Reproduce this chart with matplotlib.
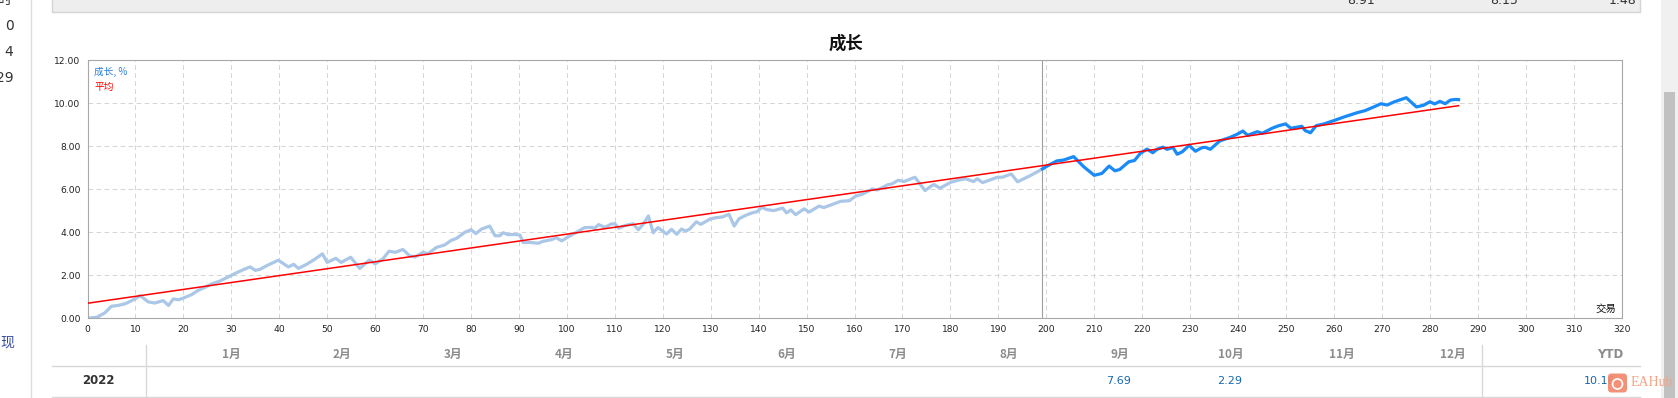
import numpy as np
import matplotlib.pyplot as plt
from matplotlib.patches import Rectangle, FancyBboxPatch, Circle

CJK = ['Noto Sans CJK SC', 'DejaVu Sans']

# growth curve (trade number, growth %)
trade = [0, 2, 3.6, 5, 6.4, 7.8, 9.2, 11, 12.7, 14, 15.8, 16.9, 17.9, 19, 20.3, 21.7,
         23.1, 24.5, 25.9, 27.6, 29.4, 31.1, 32.5, 33.9, 35, 36, 37.4, 39.8, 41.9, 43,
         44, 45.7, 47.5, 49, 50, 51.8, 52.9, 54.9, 56.8, 58.8, 60, 61.6, 62.9,
         64.2, 65.8, 67.2, 68.3, 70, 71, 72.8, 74.5, 75.9, 77, 78.7, 80, 81, 82.2, 83.9,
         85, 86, 86.7, 87.7, 89.1, 90.2, 90.9, 92.3, 94, 95, 96.8, 97.8, 98.9, 100.2,
         102, 103.7, 105.1, 105.8, 106.6, 107.9, 109.3, 110, 110.8, 112.1, 113.8, 114.9,
         115.9, 117, 118, 119, 120.8, 121.8, 122.9, 123.9, 124.8, 125.6, 127, 127.9,
         130, 131.4, 132.4, 133.8, 134.9, 135.9, 137.3, 138.7, 139.7, 140.6, 141.8, 143.2,
         145, 145.8, 146.7, 147.7, 149.5, 150.5, 152.6, 153.6, 155.4, 157.1, 158.9, 160.3,
         161.6, 163.7, 164.8, 166.9, 167.9, 169.1, 170.3, 172.6, 174.7, 176.1, 176.6,
         177.8, 180.1, 181.8, 183.2, 184.8, 185.6, 186.7, 188.4, 189.8, 190.8, 192.7, 194,
         196.7, 199.2,
         200.5, 202.2, 203.6, 205.7, 207.8, 210, 211.6, 213.1, 214.3, 215.3, 217.2, 218.4,
         219.6, 221, 222.2, 223.1, 224.3, 225.2, 226.4, 227.3, 228.4, 229.8, 231.1, 232.5,
         233.2, 234.2, 236.2, 238.4, 239.8, 241, 242, 244, 245, 247.1, 248.5, 249.9, 251,
         253.3, 254, 255.1, 256.3, 257.9, 259.9, 262.3, 264.8, 266.5, 268.3, 269.8, 271.1,
         272.5, 273.9, 275.1, 277.2, 278.7, 280, 281, 282.1, 283.2, 284.3, 285.3, 286]
growth = [0.00, 0.05, 0.25, 0.56, 0.60, 0.67, 0.82, 1.05, 0.76, 0.71, 0.82, 0.60, 0.90, 0.86,
          0.97, 1.10, 1.30, 1.44, 1.60, 1.73, 1.93, 2.12, 2.26, 2.39, 2.23, 2.28, 2.45, 2.70,
          2.39, 2.51, 2.32, 2.51, 2.76, 3.00, 2.60, 2.79, 2.60, 2.84, 2.32, 2.71, 2.53, 2.76,
          3.12,
          3.07, 3.20, 2.91, 2.85, 3.07, 3.00, 3.30, 3.41, 3.63, 3.72, 4.00, 4.12, 3.94, 4.15,
          4.29, 3.84, 3.84, 3.98, 3.89, 3.90, 3.87, 3.52, 3.53, 3.49, 3.58, 3.66, 3.75, 3.60,
          3.78, 4.00, 4.22, 4.23, 4.19, 4.36, 4.23, 4.39, 4.40, 4.19, 4.31, 4.40, 4.12, 4.37,
          4.76, 3.98, 4.22, 3.92, 4.14, 3.91, 4.15, 4.06, 4.15, 4.49, 4.37,
          4.63, 4.69, 4.71, 4.84, 4.29, 4.63, 4.79, 4.91, 4.96, 5.16, 5.05, 5.01, 5.13, 4.90,
          5.04, 4.82, 5.09, 4.94, 5.22, 5.15, 5.30, 5.44, 5.47, 5.69, 5.77, 6.01, 5.97, 6.21,
          6.26, 6.42, 6.36, 6.56, 5.94, 6.17, 6.22, 6.05, 6.33, 6.43, 6.49, 6.36, 6.49, 6.31,
          6.45, 6.56, 6.56, 6.71, 6.35, 6.64, 6.95,
          7.12, 7.32, 7.36, 7.52, 7.05, 6.65, 6.74, 7.08, 6.86, 6.92, 7.28, 7.34, 7.67, 7.87,
          7.70, 7.86, 7.96, 7.86, 7.95, 7.63, 7.75, 8.05, 7.77, 7.94, 7.95, 7.86, 8.25, 8.42,
          8.56, 8.71, 8.51, 8.68, 8.60, 8.84, 8.96, 9.04, 8.84, 8.93, 8.73, 8.63, 8.96, 9.04,
          9.19, 9.38, 9.56, 9.66, 9.83, 9.98, 9.92, 10.06, 10.17, 10.26, 9.83, 9.91, 10.07,
          9.97, 10.09, 9.98, 10.15, 10.18, 10.17]
signal_start = 199.2

avg_trade = [0, 286]
avg_value = [0.70, 9.89]

months = ['1月', '2月', '3月', '4月', '5月', '6月', '7月', '8月', '9月', '10月', '11月', '12月']
month_values = [None, None, None, None, None, None, None, None, '7.69', '2.29', None, None]
year = '2022'
ytd = '10.16'

trade = np.array(trade)
growth = np.array(growth)
hist = trade <= signal_start
live = trade >= signal_start

fig = plt.figure(figsize=(16.78, 3.98), dpi=100)

# page around the chart, in pixel coordinates
page = fig.add_axes([0, 0, 1, 1])
page.set_xlim(0, 1678)
page.set_ylim(398, 0)
page.axis('off')

page.add_patch(Rectangle((51.8, -3), 1588, 14.7, fc='#eeeeee', ec='#d4d4d4', lw=1))
for x, s in [(1361, '8.91'), (1504, '8.15'), (1623, '1.48')]:
    page.text(x, 4, s, ha='center', va='baseline', fontsize=9, color='#333333')
page.plot([31, 31], [0, 398], color='#dcdcdc', lw=1)
page.text(12, 4, '时', ha='right', va='baseline', fontsize=10, color='#333333', family=CJK)
for y, s in [(26, '0'), (52, '4'), (78, '29')]:
    page.text(13.5, y, s, ha='right', va='center', fontsize=10, color='#333333')
page.text(0, 343, '现', ha='left', va='center', fontsize=10, color='#3a4fa0', family=CJK)

page.add_patch(Rectangle((1661, 0), 17, 398, fc='#f0f0f0', ec='none'))
page.add_patch(Rectangle((1663.5, 92), 11.5, 310, fc='#c1c1c1', ec='none'))

page.text(846, 44, '成长', ha='center', va='center', fontsize=12.5, fontweight='bold',
          color='#111111', family=CJK)

# month table under the chart
page.plot([51.8, 1640], [365.7, 365.7], color='#d8d8d8', lw=1)
page.plot([51.8, 1640], [396.5, 396.5], color='#d8d8d8', lw=1)
page.plot([145.7, 145.7], [345, 398], color='#d8d8d8', lw=1)
page.plot([1481.6, 1481.6], [345, 398], color='#d8d8d8', lw=1)
for k, (m, v) in enumerate(zip(months, month_values)):
    x = 231.4 + 111 * k
    page.text(x, 354, m, ha='center', va='center', fontsize=8.5, fontweight='bold',
              color='#8c8c8c', family=CJK)
    if v is not None:
        page.text(x - 1, 381, v, ha='center', va='center', fontsize=8, color='#1668b0')
page.text(1623.5, 354, 'YTD', ha='right', va='center', fontsize=8.5, fontweight='bold',
          color='#8c8c8c')
page.text(98, 381, year, ha='center', va='center', fontsize=8.5, fontweight='bold',
          color='#333333')
page.text(1615, 381, ytd, ha='right', va='center', fontsize=8, color='#1668b0')

# EAHub watermark
page.add_patch(FancyBboxPatch((1608, 373.5), 19, 19, boxstyle='round,pad=0,rounding_size=3.5',
                              fc='#f3876c', ec='none', alpha=0.92, zorder=5))
page.add_patch(Circle((1617.5, 384), 5, fc='none', ec='white', lw=1.2, zorder=6))
page.text(1631, 382.5, 'EAHub', ha='left', va='center', fontsize=10, color='#f4a486',
          family=['Liberation Serif'], zorder=6)

# chart
ax = fig.add_axes([87.5 / 1678, 1 - 318.3 / 398, (1621.6 - 87.5) / 1678, (318.3 - 60.3) / 398])
ax.set_xlim(0, 320)
ax.set_ylim(0, 12)
ax.set_xticks(np.arange(0, 321, 10))
ax.set_yticks(np.arange(0, 12.1, 2))
ax.yaxis.set_major_formatter(plt.FormatStrFormatter('%.2f'))
ax.tick_params(length=0, labelsize=6.6, labelcolor='#222222', pad=5)
ax.set_axisbelow(True)
ax.grid(True, color='#d6d6d6', lw=0.75, ls=(0, (4.5, 3.2)))
for sp in ax.spines.values():
    sp.set_color('#a8a8a8')
    sp.set_linewidth(0.8)

ax.axvline(signal_start, color='#a0a0a0', lw=0.8, zorder=1)
ax.plot(trade[hist], growth[hist], color='#aac7e7', lw=2.3, solid_joinstyle='round', zorder=2)
ax.plot(trade[live], growth[live], color='#1a8af8', lw=2.3, solid_joinstyle='round', zorder=3)
ax.plot(avg_trade, avg_value, color='#ff0000', lw=1.1, zorder=4)

ax.text(0.0045, 0.955, '成长, %', transform=ax.transAxes, ha='left', va='center',
        fontsize=7, color='#2a7fe0', family=CJK)
ax.text(0.0045, 0.897, '平均', transform=ax.transAxes, ha='left', va='center',
        fontsize=7, color='#ff0000', family=CJK)
ax.text(0.9965, 0.035, '交易', transform=ax.transAxes, ha='right', va='center',
        fontsize=7.5, color='#111111', family=CJK)

fig.savefig('out.png', dpi=100)
